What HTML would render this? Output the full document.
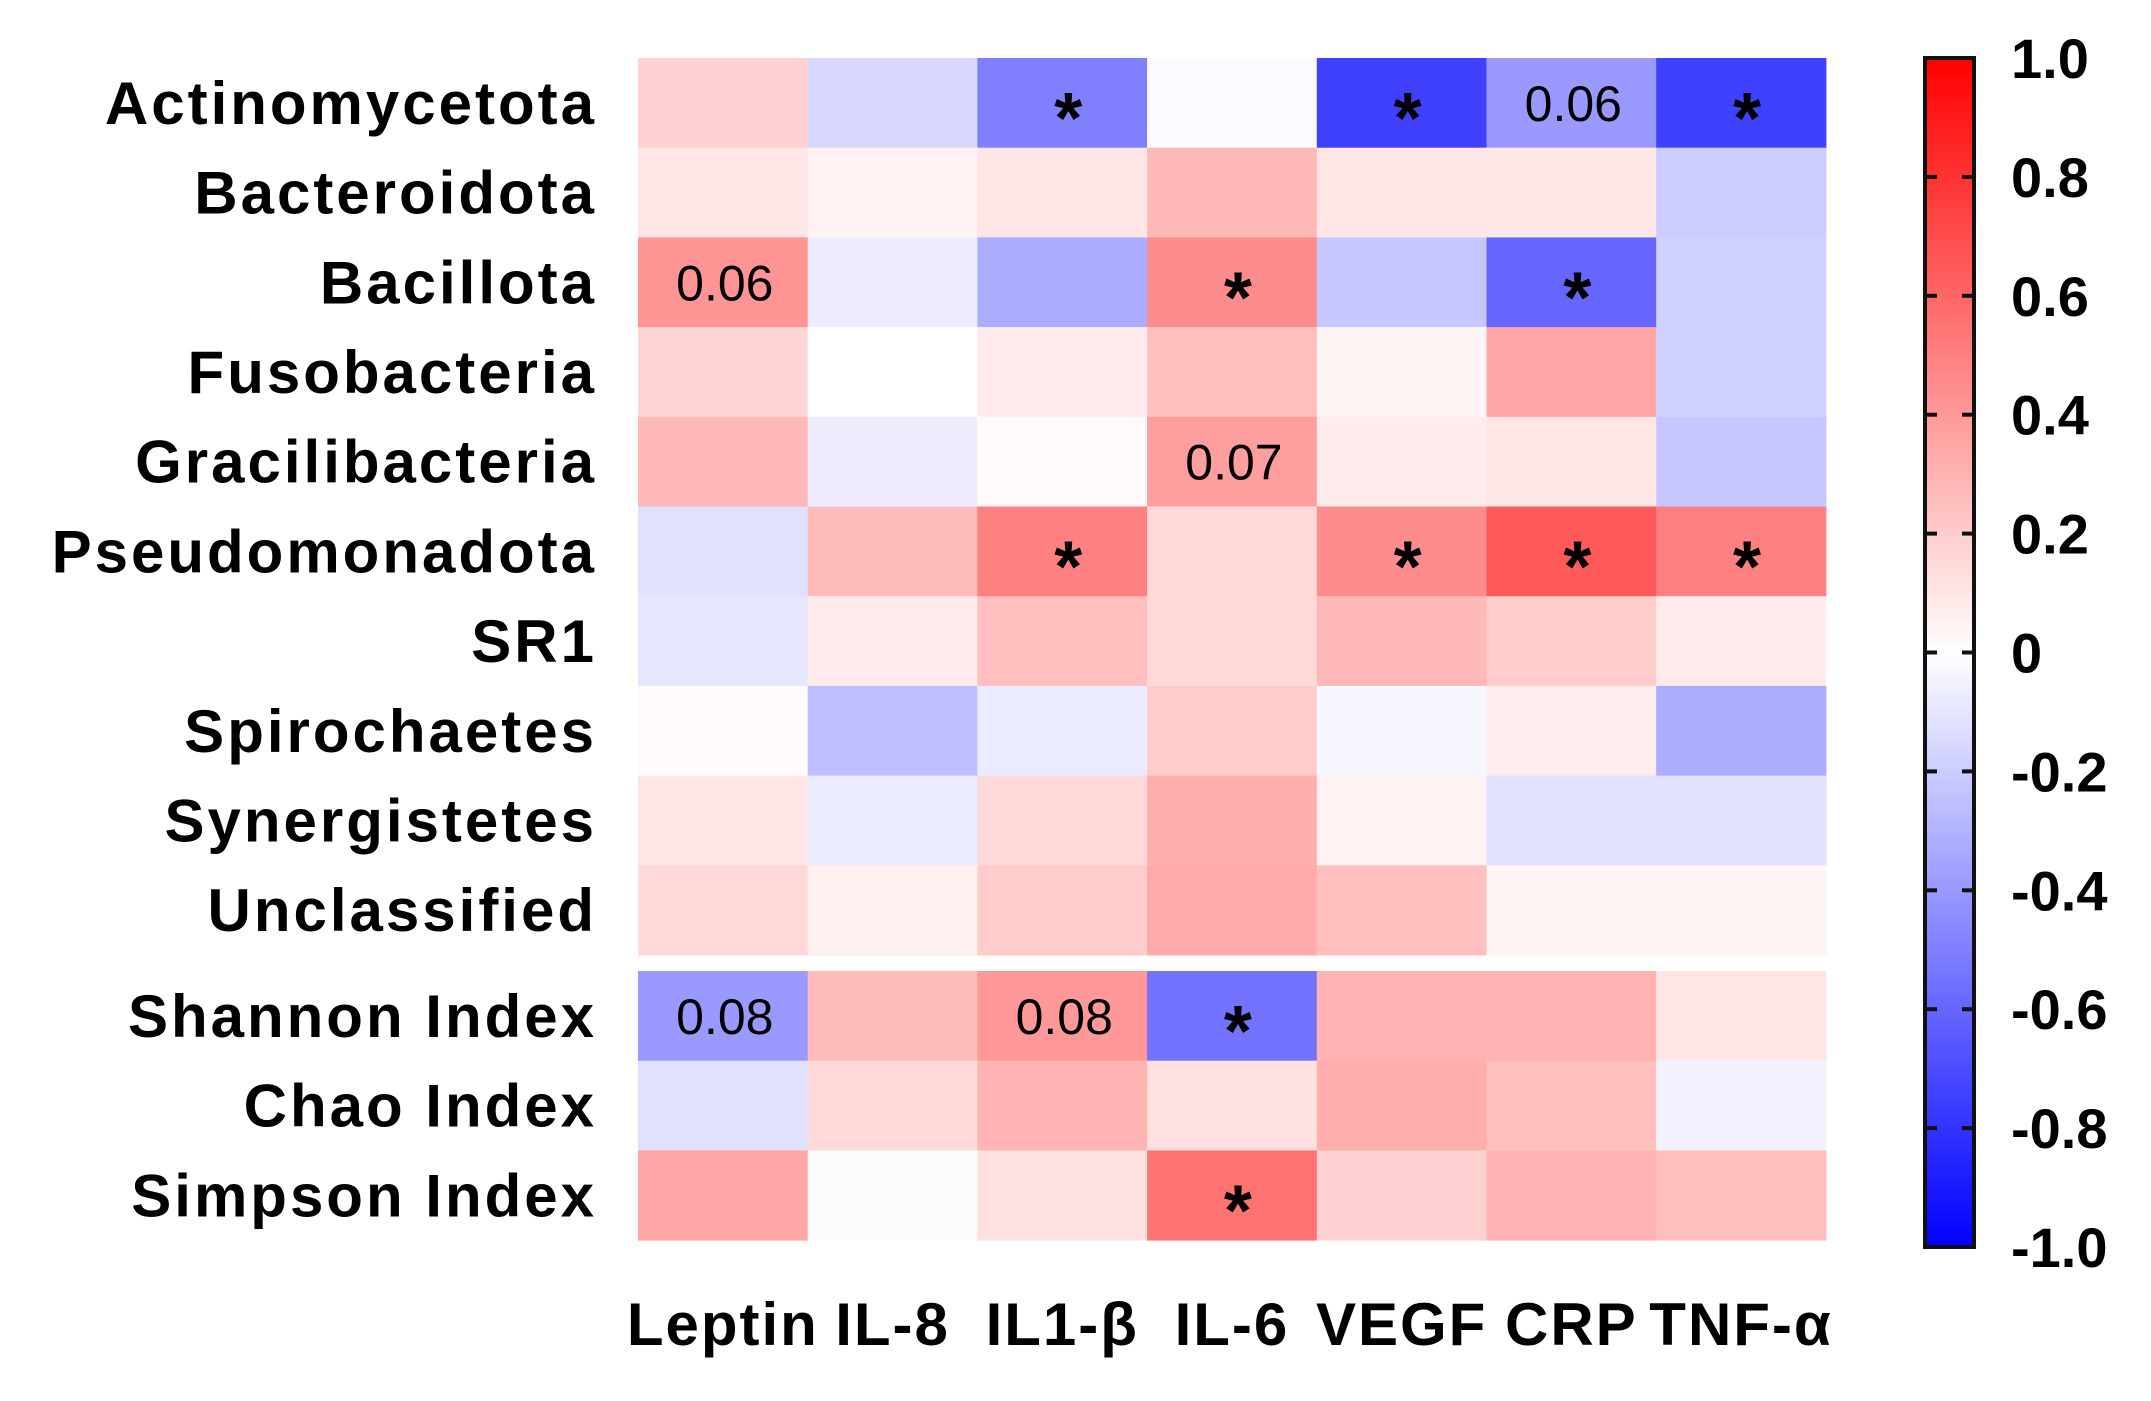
<!DOCTYPE html>
<html><head><meta charset="utf-8"><style>
html,body{margin:0;padding:0;background:#fff;}
svg{display:block;font-family:"Liberation Sans",Arial,sans-serif;}
</style></head><body>
<svg id="chart" width="2151" height="1401" viewBox="0 0 2151 1401"></svg>
<script>
const rowLabels = ["Actinomycetota","Bacteroidota","Bacillota","Fusobacteria","Gracilibacteria","Pseudomonadota","SR1","Spirochaetes","Synergistetes","Unclassified","Shannon Index","Chao Index","Simpson Index"];
const colLabels = ["Leptin","IL-8","IL1-β","IL-6","VEGF","CRP","TNF-α"];
const values = [
 [0.18,-0.15,-0.5,-0.02,-0.75,-0.4,-0.75],
 [0.1,0.05,0.1,0.28,0.1,0.1,-0.2],
 [0.42,-0.07,-0.33,0.45,-0.22,-0.6,-0.18],
 [0.17,0,0.08,0.25,0.04,0.35,-0.18],
 [0.28,-0.07,0.02,0.38,0.08,0.1,-0.22],
 [-0.12,0.27,0.5,0.15,0.45,0.65,0.5],
 [-0.1,0.08,0.25,0.15,0.28,0.2,0.08],
 [0.02,-0.25,-0.08,0.2,-0.03,0.07,-0.32],
 [0.1,-0.08,0.15,0.32,0.05,-0.12,-0.12],
 [0.15,0.06,0.2,0.33,0.25,0.04,0.04],
 [-0.4,0.27,0.4,-0.55,0.3,0.3,0.1],
 [-0.12,0.15,0.3,0.12,0.32,0.25,-0.05],
 [0.35,-0.01,0.12,0.55,0.18,0.3,0.25]
];
const annotations = [
 ["","","*","","*","0.06","*"],
 ["","","","","","",""],
 ["0.06","","","*","","*",""],
 ["","","","","","",""],
 ["","","","0.07","","",""],
 ["","","*","","*","*","*"],
 ["","","","","","",""],
 ["","","","","","",""],
 ["","","","","","",""],
 ["","","","","","",""],
 ["0.08","","0.08","*","","",""],
 ["","","","","","",""],
 ["","","","*","","",""]
];
const cbTicks = [1.0,0.8,0.6,0.4,0.2,0,-0.2,-0.4,-0.6,-0.8,-1.0];
const cbTickLabels = ["1.0","0.8","0.6","0.4","0.2","0","-0.2","-0.4","-0.6","-0.8","-1.0"];

const NS="http://www.w3.org/2000/svg";
const svg=document.getElementById('chart');
function mk(t,a){const e=document.createElementNS(NS,t);for(const k in a)e.setAttribute(k,a[k]);svg.appendChild(e);return e;}
const X0=638, CW=169.7, Y0=58, RH=89.7, GAP=16;
function xPos(c){return X0+c*CW;}
function yPos(r){return Y0+r*RH+(r>=10?GAP:0);}
function color(v){
  const t=Math.max(-1,Math.min(1,v));
  if(t>=0){const g=Math.round(255*(1-t));return `rgb(255,${g},${g})`;}
  const g=Math.round(255*(1+t));return `rgb(${g},${g},255)`;
}
values.forEach((row,r)=>{
  row.forEach((v,c)=>{
    const el=mk('rect',{x:xPos(c),y:yPos(r),width:CW+0.5,height:RH+0.5,fill:color(v)});
    
    
    const a=annotations[r][c];
    if(a){
      const isStar=a==='*';
      const t=mk('text',{x:xPos(c)+CW/2+(isStar?6:2),y:yPos(r)+RH/2+(isStar?40:18),'text-anchor':'middle','font-size':isStar?72:50,'font-weight':isStar?'bold':'normal',fill:'#000'});
      t.textContent=a;
      
      
    }
  });
  const lab=mk('text',{x:597,y:yPos(r)+RH/2+21,'text-anchor':'end','font-size':60,'font-weight':'bold','letter-spacing':3,fill:'#000'});
  lab.textContent=rowLabels[r];
  
  
});
colLabels.forEach((l,c)=>{
  const t=mk('text',{x:xPos(c)+CW/2,y:1345,'text-anchor':'middle','font-size':60,'font-weight':'bold','letter-spacing':2,fill:'#000'});
  t.textContent=l;
  
  
});
const CBX=1925, CBW=49, CBT=58, CBB=1247;
function cbY(v){return CBT+(1-v)/2*(CBB-CBT);}
const defs=mk('defs',{});
const lg=document.createElementNS(NS,'linearGradient');
lg.setAttribute('id','cbg');lg.setAttribute('x1','0');lg.setAttribute('y1','0');lg.setAttribute('x2','0');lg.setAttribute('y2','1');
[[0,'rgb(255,0,0)'],[0.5,'rgb(255,255,255)'],[1,'rgb(0,0,255)']].forEach(s=>{const st=document.createElementNS(NS,'stop');st.setAttribute('offset',s[0]);st.setAttribute('stop-color',s[1]);lg.appendChild(st);});
defs.appendChild(lg);
const cb=mk('rect',{x:CBX,y:CBT,width:CBW,height:CBB-CBT,fill:'url(#cbg)',stroke:'#111','stroke-width':4});


cbTicks.forEach((v,i)=>{
  const y=cbY(v);
  if(i>0&&i<cbTicks.length-1){
    mk('line',{x1:CBX,x2:CBX+12,y1:y,y2:y,stroke:'#111','stroke-width':4});
    mk('line',{x1:CBX+CBW-12,x2:CBX+CBW,y1:y,y2:y,stroke:'#111','stroke-width':4});
  }
  const t=mk('text',{x:2011,y:y+20,'font-size':56,'font-weight':'bold',fill:'#000'});
  t.textContent=cbTickLabels[i];
  
  
});
</script>
</body></html>
